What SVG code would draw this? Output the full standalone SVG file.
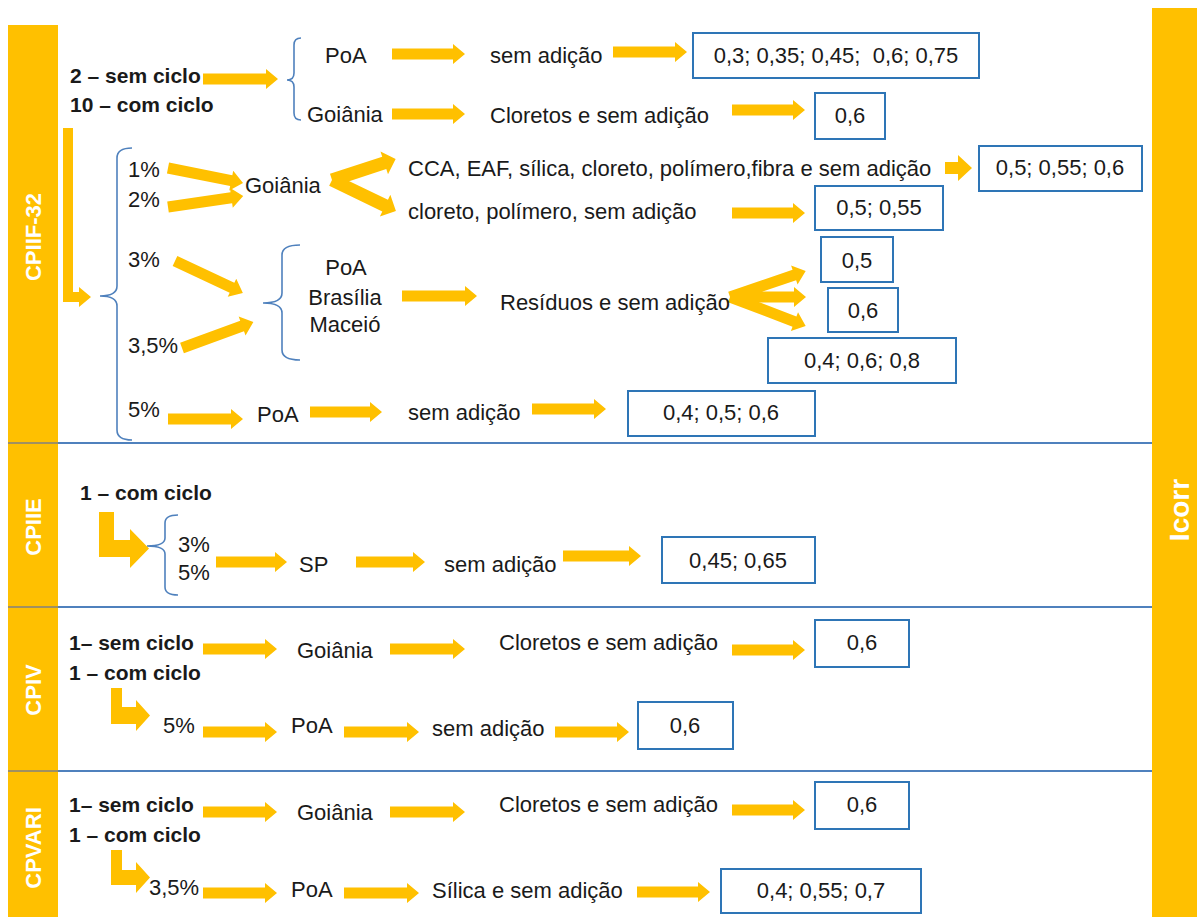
<svg xmlns="http://www.w3.org/2000/svg" width="1197" height="917" viewBox="0 0 1197 917">
<style>
.t{font-family:"Liberation Sans",Arial,sans-serif;font-size:22px;fill:#1a1a1a}
.b{font-family:"Liberation Sans",Arial,sans-serif;font-size:21px;font-weight:bold;fill:#1a1a1a}
.m{text-anchor:middle}
.lbl{font-family:"Liberation Sans",Arial,sans-serif;font-size:22px;font-weight:bold;fill:#ffffff;text-anchor:middle}
.bx{fill:#ffffff;stroke:#2E75B6;stroke-width:2}
.ar{fill:#FFC000}
.sep{stroke:#4F81BD;stroke-width:2;fill:none}
.gsep{stroke:#808080;stroke-width:1.5;fill:none}
.br{fill:none;stroke:#4F81BD;stroke-width:1.6}
</style>
<rect width="1197" height="917" fill="#ffffff"/>
<g id="bars">
<rect x="8" y="25" width="50" height="892" fill="#FFC000"/>
<rect x="1152" y="8" width="45" height="909" fill="#FFC000"/>
<line class="gsep" x1="8" y1="443" x2="58" y2="443"/>
<line class="gsep" x1="8" y1="607" x2="58" y2="607"/>
<line class="gsep" x1="8" y1="771" x2="58" y2="771"/>
<line class="sep" x1="58" y1="443" x2="1152" y2="443"/>
<line class="sep" x1="58" y1="607" x2="1152" y2="607"/>
<line class="sep" x1="58" y1="771" x2="1152" y2="771"/>
<text class="lbl" transform="translate(41,237) rotate(-90)">CPIIF-32</text>
<text class="lbl" transform="translate(41,527) rotate(-90)">CPIIE</text>
<text class="lbl" transform="translate(41,690) rotate(-90)">CPIV</text>
<text class="lbl" transform="translate(41,848) rotate(-90)">CPVARI</text>
<text class="lbl" style="font-size:28px" transform="translate(1189,510) rotate(-90)">Icorr</text>
</g>
<g id="connectors">
<path class="br" d="M301,38Q294,38 294,45V73Q294,80 287,80Q294,80 294,87V113Q294,120 301,120"/>
<path class="br" d="M132,148Q117,148 117,158V286Q117,296 100,296Q117,296 117,306V430Q117,440 132,440"/>
<path class="br" d="M300,245Q282,245 282,255V293Q282,303 263,303Q282,303 282,313V350Q282,360 300,360"/>
<path class="br" d="M178,515Q165,515 165,523V538Q165,546 147,546Q165,546 165,554V587Q165,595 178,595"/>
<g class="ar">
<path d="M203,73.5H266V69L278,79L266,89V84.5H203Z"/>
<path d="M392,48.5H453V44L465,54L453,64V59.5H392Z"/>
<path d="M613,46.5H675V42L687,52L675,62V57.5H613Z"/>
<path d="M392,108.5H453V104L465,114L453,124V119.5H392Z"/>
<path d="M732,104.5H793V100L805,110L793,120V115.5H732Z"/>
<path d="M63,128H73V292H79V287L91,297L79,307V302H63Z"/>
<path transform="translate(168,168) rotate(11.3)" d="M0,-5.5H64.5V-10L76.5,0L64.5,10V5.5H0Z"/>
<path transform="translate(168,207) rotate(-8.3)" d="M0,-5.5H64V-10L76,0L64,10V5.5H0Z"/>
<path transform="translate(332,180) rotate(-18.2)" d="M0,-6.5H55V-12L67,0L55,12V6.5H0Z"/>
<path transform="translate(332,180) rotate(25.8)" d="M0,-6.5H59V-12L71,0L59,12V6.5H0Z"/>
<path d="M945,162H958V155L972,168L958,181V174H945Z"/>
<path d="M732,207.5H793V203L805,213L793,223V218.5H732Z"/>
<path transform="translate(175,261) rotate(25.2)" d="M0,-5.5H63V-10L75,0L63,10V5.5H0Z"/>
<path transform="translate(182,348) rotate(-20.1)" d="M0,-5.5H64V-10L76,0L64,10V5.5H0Z"/>
<path d="M402,290.5H465V286L477,296L465,306V301.5H402Z"/>
<path transform="translate(730,297) rotate(-18.9)" d="M0,-5.5H68V-10L80,0L68,10V5.5H0Z"/>
<path transform="translate(730,297)" d="M0,-5.5H64V-10L76,0L64,10V5.5H0Z"/>
<path transform="translate(730,297) rotate(20.9)" d="M0,-5.5H69V-10L81,0L69,10V5.5H0Z"/>
<path d="M168,413.5H231V409L243,419L231,429V424.5H168Z"/>
<path d="M310,406.5H370V402L382,412L370,422V417.5H310Z"/>
<path d="M532,403.5H594V399L606,409L594,419V414.5H532Z"/>
<path d="M99,512H114V540H130V529L149,548.5L130,568V557H99Z"/>
<path d="M216,556.5H275V552L287,562L275,572V567.5H216Z"/>
<path d="M356,556.5H413V552L425,562L413,572V567.5H356Z"/>
<path d="M563,550.5H629V546L641,556L629,566V561.5H563Z"/>
<path d="M203,643.5H265V639L277,649L265,659V654.5H203Z"/>
<path d="M390,643.5H453V639L465,649L453,659V654.5H390Z"/>
<path d="M732,644.5H793V640L805,650L793,660V655.5H732Z"/>
<path d="M111,688H122V707H136V700L150,715.5L136,731V724H111Z"/>
<path d="M203,726.5H265V722L277,732L265,742V737.5H203Z"/>
<path d="M344,726.5H407V722L419,732L407,742V737.5H344Z"/>
<path d="M555,726.5H617V722L629,732L617,742V737.5H555Z"/>
<path d="M203,806.5H265V802L277,812L265,822V817.5H203Z"/>
<path d="M390,806.5H453V802L465,812L453,822V817.5H390Z"/>
<path d="M732,804.5H793V800L805,810L793,820V815.5H732Z"/>
<path d="M111,850H122V870H136V862L150,877.5L136,893V885H111Z"/>
<path d="M203,887.5H265V883L277,893L265,903V898.5H203Z"/>
<path d="M344,887.5H407V883L419,893L407,903V898.5H344Z"/>
<path d="M637,886.5H698V882L710,892L698,902V897.5H637Z"/>
</g>
</g>
<g id="n-cpiif-cycles"><text class="b" x="70" y="83">2 – sem ciclo</text><text class="b" x="70" y="112">10 – com ciclo</text></g>
<g id="n-poa1"><text class="t" x="325" y="63">PoA</text></g>
<g id="n-goiania1"><text class="t" x="307" y="122">Goiânia</text></g>
<g id="n-sem1"><text class="t" x="490" y="63">sem adição</text></g>
<g id="n-clor1"><text class="t" x="490" y="123">Cloretos e sem adição</text></g>
<g id="n-box1"><rect class="bx" x="693" y="33" width="286" height="45"/><text class="t m" x="836" y="63" xml:space="preserve">0,3; 0,35; 0,45;  0,6; 0,75</text></g>
<g id="n-box2"><rect class="bx" x="815" y="93" width="70" height="46"/><text class="t m" x="850" y="123">0,6</text></g>
<g id="n-pct12"><text class="t" x="128" y="177">1%</text><text class="t" x="128" y="207">2%</text></g>
<g id="n-goiania2"><text class="t" x="245" y="193">Goiânia</text></g>
<g id="n-cca"><text class="t" x="408" y="176">CCA, EAF, sílica, cloreto, polímero,fibra e sem adição</text></g>
<g id="n-clor2"><text class="t" x="408" y="219">cloreto, polímero, sem adição</text></g>
<g id="n-box3"><rect class="bx" x="979" y="146" width="163" height="45"/><text class="t m" x="1060" y="175">0,5; 0,55; 0,6</text></g>
<g id="n-box4"><rect class="bx" x="815" y="186" width="128" height="44"/><text class="t m" x="879" y="215">0,5; 0,55</text></g>
<g id="n-pct335"><text class="t" x="128" y="267">3%</text><text class="t" x="128" y="353">3,5%</text></g>
<g id="n-cities"><text class="t m" x="346" y="275">PoA</text><text class="t m" x="345" y="305">Brasília</text><text class="t m" x="345" y="332">Maceió</text></g>
<g id="n-residuos"><text class="t" x="500" y="310">Resíduos e sem adição</text></g>
<g id="n-box5"><rect class="bx" x="821" y="237" width="72" height="45"/><text class="t m" x="857" y="268">0,5</text></g>
<g id="n-box6"><rect class="bx" x="828" y="288" width="70" height="44"/><text class="t m" x="863" y="318">0,6</text></g>
<g id="n-box7"><rect class="bx" x="768" y="338" width="188" height="45"/><text class="t m" x="862" y="368">0,4; 0,6; 0,8</text></g>
<g id="n-pct5"><text class="t" x="128" y="417">5%</text></g>
<g id="n-poa5"><text class="t" x="257" y="422">PoA</text></g>
<g id="n-sem5"><text class="t" x="408" y="420">sem adição</text></g>
<g id="n-box8"><rect class="bx" x="628" y="391" width="187" height="45"/><text class="t m" x="721" y="420">0,4; 0,5; 0,6</text></g>
<g id="n-cpiie-cycle"><text class="b" x="80" y="500">1 – com ciclo</text></g>
<g id="n-cpiie-pct"><text class="t" x="178" y="552">3%</text><text class="t" x="178" y="580">5%</text></g>
<g id="n-sp"><text class="t" x="299" y="572">SP</text></g>
<g id="n-sem-e"><text class="t" x="444" y="572">sem adição</text></g>
<g id="n-box9"><rect class="bx" x="662" y="537" width="153" height="46"/><text class="t m" x="738" y="568">0,45; 0,65</text></g>
<g id="n-cpiv-cycles"><text class="b" x="69" y="650">1– sem ciclo</text><text class="b" x="69" y="680">1 – com ciclo</text></g>
<g id="n-goiania3"><text class="t" x="297" y="658">Goiânia</text></g>
<g id="n-clor3"><text class="t" x="499" y="650">Cloretos e sem adição</text></g>
<g id="n-box10"><rect class="bx" x="815" y="620" width="94" height="47"/><text class="t m" x="862" y="650">0,6</text></g>
<g id="n-cpiv-pct"><text class="t" x="163" y="733">5%</text></g>
<g id="n-poa-iv"><text class="t" x="291" y="733">PoA</text></g>
<g id="n-sem-iv"><text class="t" x="432" y="736">sem adição</text></g>
<g id="n-box11"><rect class="bx" x="638" y="702" width="95" height="47"/><text class="t m" x="685" y="733">0,6</text></g>
<g id="n-cpvari-cycles"><text class="b" x="69" y="812">1– sem ciclo</text><text class="b" x="69" y="842">1 – com ciclo</text></g>
<g id="n-goiania4"><text class="t" x="297" y="820">Goiânia</text></g>
<g id="n-clor4"><text class="t" x="499" y="812">Cloretos e sem adição</text></g>
<g id="n-box12"><rect class="bx" x="815" y="782" width="94" height="47"/><text class="t m" x="862" y="812">0,6</text></g>
<g id="n-cpvari-pct"><text class="t" x="149" y="895">3,5%</text></g>
<g id="n-poa-vari"><text class="t" x="291" y="897">PoA</text></g>
<g id="n-silica"><text class="t" x="432" y="898">Sílica e sem adição</text></g>
<g id="n-box13"><rect class="bx" x="721" y="869" width="200" height="44"/><text class="t m" x="821" y="898">0,4; 0,55; 0,7</text></g>
</svg>
